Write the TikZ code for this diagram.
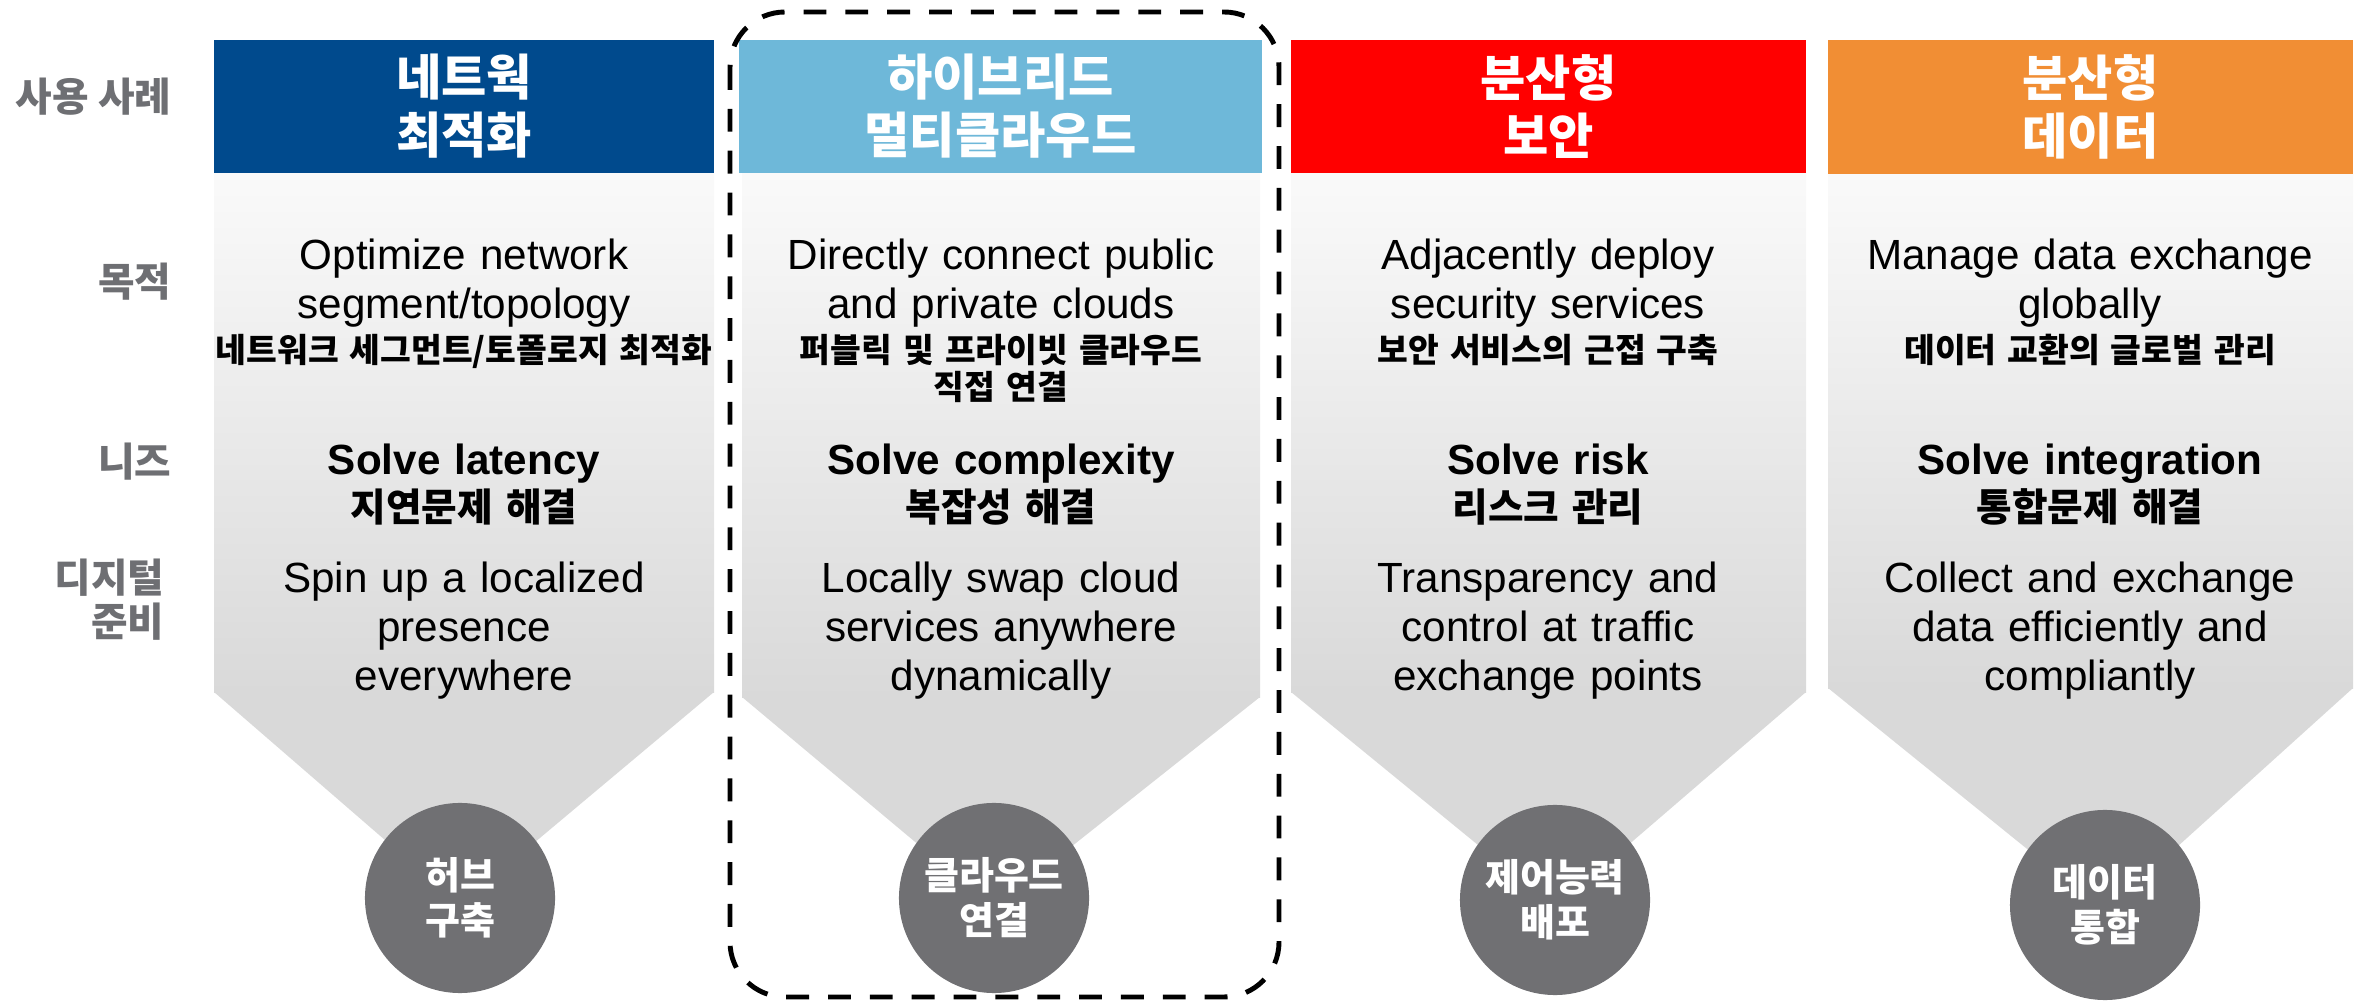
\documentclass[tikz,border=0pt]{standalone}
\usepackage{fontspec}
\setmainfont{Liberation Sans}
\newfontfamily\kr{Noto Sans CJK KR}

\definecolor{netblue}{RGB}{0,74,141}
\definecolor{cloudblue}{RGB}{110,184,217}
\definecolor{secred}{RGB}{255,0,0}
\definecolor{dataorange}{RGB}{241,142,52}
\definecolor{bodytop}{RGB}{250,250,250}
\definecolor{bodygray}{RGB}{217,217,217}
\definecolor{hubgray}{RGB}{112,112,115}
\definecolor{labelgray}{RGB}{110,111,115}

\begin{document}
\begin{tikzpicture}[
        x=0.01cm, y=-0.01cm,
        header/.style={text=white, align=center, inner sep=0pt, minimum height=1.33cm,
            font=\kr\bfseries\fontsize{14}{16.5}\selectfont},
        rowlabel/.style={anchor=east, text=labelgray, align=right, inner sep=0pt,
            font=\kr\bfseries\fontsize{11.3}{12.5}\selectfont},
        entext/.style={anchor=base, text width=5.6cm, align=center, inner sep=0pt,
            font=\fontsize{12}{13.9}\selectfont},
        enbold/.style={entext, font=\bfseries\fontsize{12}{13.9}\selectfont},
        krsub/.style={anchor=base, text width=5.6cm, align=center, inner sep=0pt,
            font=\kr\bfseries\fontsize{9.5}{10.5}\selectfont},
        krneed/.style={krsub, font=\kr\bfseries\fontsize{11}{12}\selectfont},
        hub/.style={circle, fill=hubgray, minimum size=1.9cm, inner sep=0pt, text=white,
            align=center, font=\kr\bfseries\fontsize{10.8}{12.8}\selectfont},
        bodyfade/.style={top color=bodytop, bottom color=bodygray},
        bodytail/.style={fill=bodygray},
        focus/.style={line width=1.4pt, dash pattern=on 6.5pt off 5.4pt, rounded corners=0.55cm}]

    \useasboundingbox (0,0) rectangle (2364,1001);

    % row labels
    \node[rowlabel] (use label) at (172,97) {사용 사례};
    \node[rowlabel] (goal label) at (172,282) {목적};
    \node[rowlabel] (need label) at (172,462) {니즈};
    \node[rowlabel] (ready label) at (165,600) {디지털\\준비};

    % network column
    \shade[bodyfade] (214,172) rectangle (714,693);
    \fill[bodytail] (214,692) -- (714,692) -- (460,905) -- cycle;
    \node[header, fill=netblue, minimum width=5cm] (net head) at (464,106.5) {네트웍\\최적화};
    \node[entext] (net goal) at (464,270) {Optimize network\\segment/topology};
    \node[krsub] (net goal kr) at (464,363) {네트워크 세그먼트/토폴로지 최적화};
    \node[enbold] (net need) at (464,475) {Solve latency};
    \node[krneed] (net need kr) at (464,522) {지연문제 해결};
    \node[entext] (net ready) at (464,593) {Spin up a localized\\presence\\everywhere};
    \node[hub] (net hub) at (460,898) {허브\\구축};

    % cloud column
    \shade[bodyfade] (742,172) rectangle (1260,698);
    \fill[bodytail] (742,697) -- (1260,697) -- (994,908) -- cycle;
    \node[header, fill=cloudblue, minimum width=5.23cm] (cloud head) at (1000.5,106.5) {하이브리드\\멀티클라우드};
    \node[entext] (cloud goal) at (1001,270) {Directly connect public\\and private clouds};
    \node[krsub] (cloud goal kr) at (1001,363) {퍼블릭 및 프라이빗 클라우드\\직접 연결};
    \node[enbold] (cloud need) at (1001,475) {Solve complexity};
    \node[krneed] (cloud need kr) at (1001,522) {복잡성 해결};
    \node[entext] (cloud ready) at (1001,593) {Locally swap cloud\\services anywhere\\dynamically};
    \node[hub] (cloud hub) at (994,898) {클라우드\\연결};

    % security column
    \shade[bodyfade] (1291,172) rectangle (1806,693);
    \fill[bodytail] (1291,692) -- (1806,692) -- (1555,908) -- cycle;
    \node[header, fill=secred, minimum width=5.15cm] (sec head) at (1548.5,106.5) {분산형\\보안};
    \node[entext] (sec goal) at (1548,270) {Adjacently deploy\\security services};
    \node[krsub] (sec goal kr) at (1548,363) {보안 서비스의 근접 구축};
    \node[enbold] (sec need) at (1548,475) {Solve risk};
    \node[krneed] (sec need kr) at (1548,522) {리스크 관리};
    \node[entext] (sec ready) at (1548,593) {Transparency and\\control at traffic\\exchange points};
    \node[hub] (sec hub) at (1555,900) {제어능력\\배포};

    % data column
    \shade[bodyfade] (1828,172) rectangle (2353,689);
    \fill[bodytail] (1828,688) -- (2353,688) -- (2105,912) -- cycle;
    \node[header, fill=dataorange, minimum width=5.25cm] (data head) at (2090.5,107) {분산형\\데이터};
    \node[entext] (data goal) at (2090,270) {Manage data exchange\\globally};
    \node[krsub] (data goal kr) at (2090,363) {데이터 교환의 글로벌 관리};
    \node[enbold] (data need) at (2090,475) {Solve integration};
    \node[krneed] (data need kr) at (2090,522) {통합문제 해결};
    \node[entext] (data ready) at (2090,593) {Collect and exchange\\data efficiently and\\compliantly};
    \node[hub] (data hub) at (2105,905) {데이터\\통합};

    % focus frame round the cloud column
    \draw[focus] (730,12) rectangle (1279,997);
\end{tikzpicture}
\end{document}
